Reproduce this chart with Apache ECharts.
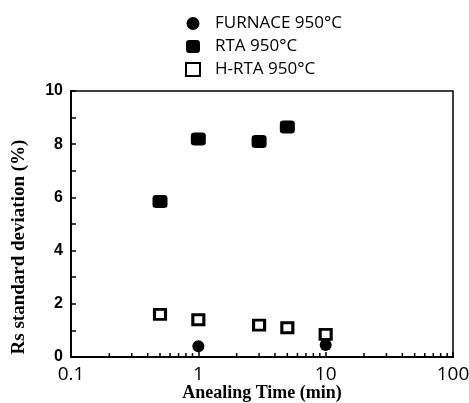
<!DOCTYPE html>
<html><head><meta charset="utf-8">
<script src="https://cdn.jsdelivr.net/npm/echarts@6/dist/echarts.min.js"></script>
<style>html,body{margin:0;padding:0;background:#fff}#c{width:469px;height:403px}</style>
</head><body><div id="c"></div>
<script>
const seriesNames = ['FURNACE 950°C', 'RTA 950°C', 'H-RTA 950°C'];
const furnaceTime = [1, 10];
const furnaceDev = [0.4, 0.45];
const rtaTime = [0.5, 1, 3, 5];
const rtaDev = [5.85, 8.2, 8.1, 8.65];
const hrtaTime = [0.5, 1, 3, 5, 10];
const hrtaDev = [1.6, 1.4, 1.2, 1.1, 0.85];
const xMinorTicks = [0.2,0.3,0.4,0.5,0.6,0.7,0.8,0.9,2,3,4,5,6,7,8,9,20,30,40,50,60,70,80,90];

const pairs = (xs, ys) => xs.map((x, i) => [x, ys[i]]);

const chart = echarts.init(document.getElementById('c'));
chart.setOption({
  animation: false,
  backgroundColor: '#fff',
  legend: {
    orient: 'vertical', left: 180, top: 10, itemGap: 6, itemWidth: 14, itemHeight: 13,
    inactiveColor: '#000',
    textStyle: { fontFamily: 'Open Sans', fontSize: 17, lineHeight: 17, color: '#000', padding: [0,0,0,10] },
    data: seriesNames
  },
  grid: { left: 71, right: 16, top: 91, bottom: 46, outerBoundsMode: 'none', containLabel: false,
    show: true, borderColor: '#000', borderWidth: 1.5, backgroundColor: 'transparent' },
  xAxis: {
    type: 'log', min: 0.1, max: 100, logBase: 10,
    name: 'Anealing Time (min)', nameLocation: 'middle', nameGap: 27, nameMoveOverlap: false,
    nameTextStyle: { fontFamily: 'Liberation Serif', fontWeight: 'bold', fontSize: 18, lineHeight: 18, color: '#000' },
    axisLine: { lineStyle: { color: '#000', width: 2 } },
    axisTick: { inside: true, length: 5, lineStyle: { color: '#000', width: 1.5 } },
    axisLabel: { fontFamily: 'Open Sans', fontSize: 19, color: '#000', margin: 8 },
    splitLine: { show: false }
  },
  yAxis: {
    type: 'value', min: 0, max: 10, interval: 2,
    name: 'Rs standard deviation (%)', nameLocation: 'middle', nameGap: 42, nameMoveOverlap: false,
    nameTextStyle: { fontFamily: 'Liberation Serif', fontWeight: 'bold', fontSize: 19, color: '#000', padding: [0, 46, 0, 0] },
    axisLine: { show: true, lineStyle: { color: '#000', width: 2 } },
    axisTick: { inside: true, length: 5, lineStyle: { color: '#000', width: 1.5 } },
    minorTick: { show: true, splitNumber: 2, length: 5, lineStyle: { color: '#000', width: 1.5 } },
    axisLabel: { fontFamily: 'Liberation Sans', fontWeight: 'bold', fontSize: 16, color: '#000', margin: 8 },
    splitLine: { show: false }
  },
  series: [
    { name: seriesNames[0], type: 'scatter', symbol: 'circle', symbolSize: 12,
      itemStyle: { color: '#000', opacity: 1 }, data: pairs(furnaceTime, furnaceDev), z: 3 },
    { name: seriesNames[1], type: 'scatter', symbol: 'roundRect', symbolSize: [15, 13],
      itemStyle: { color: '#000', opacity: 1 }, data: pairs(rtaTime, rtaDev), z: 3 },
    { name: seriesNames[2], type: 'scatter', symbol: 'rect', symbolSize: [11, 10],
      itemStyle: { color: '#fff', borderColor: '#000', borderWidth: 3, opacity: 1 }, data: pairs(hrtaTime, hrtaDev), z: 4 },
    { type: 'custom', silent: true, legendHoverLink: false, z: 2,
      data: xMinorTicks.map(v => [v, 0]),
      renderItem: (params, api) => {
        const p = api.coord([api.value(0), 0]);
        return { type: 'line', shape: { x1: p[0], y1: p[1], x2: p[0], y2: p[1] - 4 },
          style: { stroke: '#000', lineWidth: 1.5 } };
      }
    }
  ]
});
</script></body></html>
